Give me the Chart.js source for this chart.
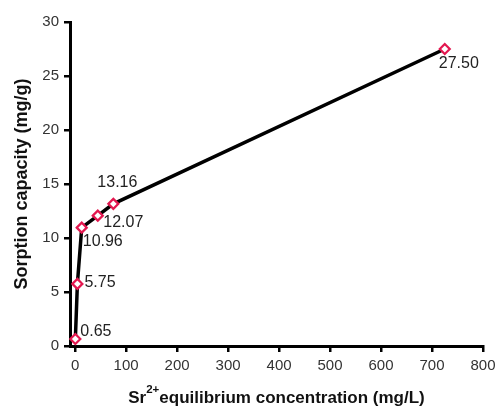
<!DOCTYPE html>
<html>
<head>
<meta charset="utf-8">
<script src="https://cdn.jsdelivr.net/npm/chart.js@4.4.1/dist/chart.umd.min.js"></script>
<style>
html,body{margin:0;padding:0;background:#fff;}
#wrap{width:498px;height:408px;}
</style>
</head>
<body>
<div id="wrap"><canvas id="c" width="498" height="408"></canvas></div>
<script>
// Data
const concentration = [0.5, 4.5, 13, 44.5, 75, 725];      // Sr2+ equilibrium concentration (mg/L)
const capacity      = [0.65, 5.75, 10.96, 12.07, 13.16, 27.50]; // sorption capacity (mg/g)
const xTickValues   = [0, 100, 200, 300, 400, 500, 600, 700, 800];
const yTickValues   = [0, 5, 10, 15, 20, 25, 30];

// label placement (style only): [dx, dy] from point centre, left aligned
const labelOffsets = [[5, -7], [7, -1.5], [1, 14], [5.5, 6.5], [-16, -21], [-6, 15]];

const FONT = '"Liberation Sans", Arial, Helvetica, sans-serif';

const points = concentration.map((x, i) => ({x: x, y: capacity[i]}));

const labelPlugin = {
  id: 'valueLabels',
  afterDatasetsDraw(chart) {
    const ctx = chart.ctx;
    const meta = chart.getDatasetMeta(0);
    ctx.save();
    ctx.font = '16px ' + FONT;
    ctx.fillStyle = '#222';
    ctx.textAlign = 'left';
    ctx.textBaseline = 'middle';
    meta.data.forEach((el, i) => {
      const off = labelOffsets[i];
      ctx.fillText(capacity[i].toFixed(2), el.x + off[0], el.y + off[1]);
    });
    ctx.restore();
  }
};

const xTitlePlugin = {
  id: 'xTitle',
  afterDraw(chart) {
    const ctx = chart.ctx;
    const area = chart.chartArea;
    const main1 = 'Sr', sup = '2+', main2 = 'equilibrium concentration (mg/L)';
    const bigFont = 'bold 17px ' + FONT, supFont = 'bold 11.5px ' + FONT;
    ctx.save();
    ctx.fillStyle = '#111';
    ctx.textBaseline = 'alphabetic';
    ctx.textAlign = 'left';
    ctx.font = bigFont;
    const w1 = ctx.measureText(main1).width;
    const w3 = ctx.measureText(main2).width;
    ctx.font = supFont;
    const w2 = ctx.measureText(sup).width;
    const total = w1 + w2 + w3;
    let x = (area.left + area.right) / 2 - total / 2;
    const base = 403;
    ctx.font = bigFont;
    ctx.fillText(main1, x, base);
    x += w1;
    ctx.font = supFont;
    ctx.fillText(sup, x, base - 10);
    x += w2;
    ctx.font = bigFont;
    ctx.fillText(main2, x, base);
    ctx.restore();
  }
};

new Chart(document.getElementById('c'), {
  type: 'scatter',
  data: {
    datasets: [{
      data: points,
      showLine: true,
      borderColor: '#000',
      borderWidth: 3.5,
      tension: 0,
      pointStyle: 'rectRot',
      pointRadius: 5,
      pointHoverRadius: 5,
      pointBackgroundColor: '#fff',
      pointBorderColor: '#e3174f',
      pointBorderWidth: 2.2,
      clip: false
    }]
  },
  options: {
    responsive: false,
    animation: false,
    events: [],
    layout: {padding: {top: 22, right: 15, bottom: 0, left: 0}},
    plugins: {legend: {display: false}, tooltip: {enabled: false}},
    scales: {
      x: {
        type: 'linear',
        min: -10,
        max: 800,
        afterBuildTicks(scale) { scale.ticks = xTickValues.map(v => ({value: v})); },
        afterFit(scale) { scale.height = 62; scale.paddingRight = 0; scale.paddingLeft = 0; },
        grid: {drawOnChartArea: false, drawTicks: true, tickLength: 6, color: '#000', lineWidth: 2.5},
        border: {display: true, color: '#000', width: 3},
        ticks: {color: '#333', font: {family: FONT, size: 15}, padding: 5, maxRotation: 0, autoSkip: false},
        title: {display: false}
      },
      y: {
        type: 'linear',
        min: 0,
        max: 30,
        afterBuildTicks(scale) { scale.ticks = yTickValues.map(v => ({value: v})); },
        afterFit(scale) { scale.width = 70; scale.paddingTop = 0; scale.paddingBottom = 0; },
        grid: {drawOnChartArea: false, drawTicks: true, tickLength: 6, color: '#000', lineWidth: 2.5},
        border: {display: true, color: '#000', width: 3},
        ticks: {color: '#333', font: {family: FONT, size: 15}, padding: 5},
        title: {display: true, text: 'Sorption capacity (mg/g)', color: '#111',
                font: {family: FONT, size: 18, weight: 'bold'}, padding: {top: 11, bottom: 4}}
      }
    }
  },
  plugins: [labelPlugin, xTitlePlugin]
});
</script>
</body>
</html>
